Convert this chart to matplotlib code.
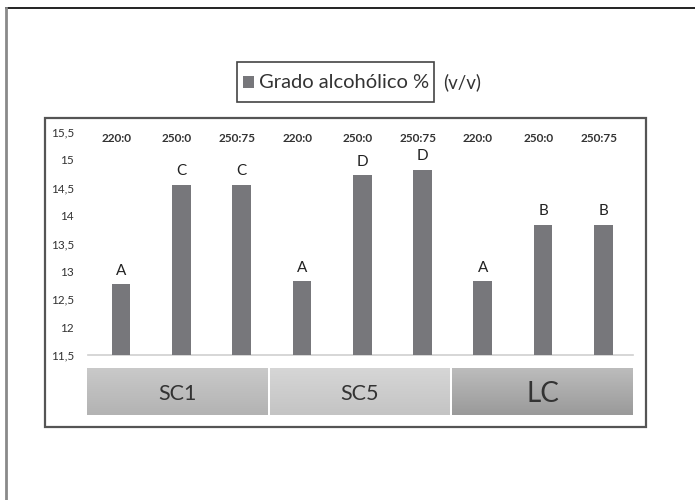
import matplotlib
matplotlib.use("Agg")
import matplotlib.pyplot as plt
from matplotlib.patches import Rectangle
from matplotlib.lines import Line2D
from matplotlib.transforms import blended_transform_factory
from matplotlib.colors import LinearSegmentedColormap
import numpy as np

plt.rcParams['font.family'] = ['Lato', 'DejaVu Sans']

# Data
groups = ["SC1", "SC5", "LC"]
treatments = ["220:0", "250:0", "250:75"]
values = {
    "SC1": [12.77, 14.55, 14.55],
    "SC5": [12.82, 14.72, 14.82],
    "LC":  [12.82, 13.83, 13.83],
}
letters = {
    "SC1": ["A", "C", "C"],
    "SC5": ["A", "D", "D"],
    "LC":  ["A", "B", "B"],
}
yticks = [11.5, 12, 12.5, 13, 13.5, 14, 14.5, 15, 15.5]
series_name = "Grado alcohólico %"
unit_text = "(v/v)"

W, H = 695, 500
fig = plt.figure(figsize=(W / 100, H / 100), dpi=100)
fig.patch.set_facecolor("white")


def fx(px):
    return px / W


def fy(py):
    return 1 - py / H


# Page edges: top and left rules
fig.add_artist(Line2D([fx(6), 1], [fy(8), fy(8)], transform=fig.transFigure,
                      color="#222222", linewidth=1.4))
fig.add_artist(Line2D([fx(6), fx(6)], [fy(8), 0], transform=fig.transFigure,
                      color="#8a8a8a", linewidth=2.0))

# Chart frame
fig.patches.append(Rectangle((fx(45), fy(427)), fx(646 - 45), fy(118) - fy(427),
                             transform=fig.transFigure, fill=False,
                             edgecolor="#555555", linewidth=1.6))

# Legend box with the unit text spilling past its right edge
fig.patches.append(Rectangle((fx(237), fy(102)), fx(434 - 237), fy(62) - fy(102),
                             transform=fig.transFigure, fill=False,
                             edgecolor="#444444", linewidth=1.2, zorder=5))
fig.patches.append(Rectangle((fx(243), fy(88)), fx(11), fy(76) - fy(88),
                             transform=fig.transFigure, facecolor="#77777b",
                             edgecolor="none", zorder=5))
fig.text(fx(259), fy(82), series_name, fontsize=14.5, color="#333333",
         va="center", ha="left")
fig.text(fx(443), fy(82), unit_text, fontsize=13.5, color="#333333",
         va="center", ha="left")

# Main bar axes
left_px, right_px = 88, 633
top_px, base_px = 132, 355
ax = fig.add_axes([fx(left_px), fy(base_px), fx(right_px - left_px), fy(top_px) - fy(base_px)])
ax.set_facecolor("none")

all_vals = [v for g in groups for v in values[g]]
all_letters = [l for g in groups for l in letters[g]]
all_treat = [t for g in groups for t in treatments]
x = np.arange(len(all_vals))

ax.bar(x, np.array(all_vals) - 11.5, bottom=11.5, width=0.31, color="#77777b", zorder=3)

first_center, spacing = 121, 60.3
ax.set_xlim(-(first_center - left_px) / spacing, (right_px - first_center) / spacing)
ax.set_ylim(11.5, 15.5)
ax.set_yticks(yticks)
ax.set_yticklabels([f"{t:g}".replace(".", ",") for t in yticks], fontsize=8.5, color="#333333")
ax.tick_params(axis="y", length=0, pad=10)
ax.set_xticks([])
for s in ["top", "right", "left"]:
    ax.spines[s].set_visible(False)
ax.spines["bottom"].set_color("#cfcfcf")
ax.spines["bottom"].set_linewidth(1.2)

for xi, v, lt in zip(x, all_vals, all_letters):
    ax.text(xi, v + 0.12, lt, ha="center", va="bottom", fontsize=11, color="#222222")

trans = blended_transform_factory(ax.transData, ax.transData)
for xi, t in zip(x, all_treat):
    ax.text(xi - 0.08, 15.38, t, ha="center", va="center", fontsize=8.5,
            fontweight="bold", color="#333333", transform=trans)

# Group boxes beneath the bars
bax = fig.add_axes([fx(87), fy(415), fx(633 - 87), fy(368) - fy(415)])
bax.set_xlim(0, 3)
bax.set_ylim(0, 1)
bax.axis("off")
grad = np.linspace(0, 1, 64).reshape(-1, 1)
box_styles = [
    ("#c9c9c9", "#b3b3b3", 15.5),
    ("#d6d6d6", "#c4c4c4", 15.5),
    ("#bcbcbc", "#9a9a9a", 20),
]
gap = 0.008
for i, (g, (c_top, c_bot, fs)) in enumerate(zip(groups, box_styles)):
    cmap = LinearSegmentedColormap.from_list(f"box{i}", [c_top, c_bot])
    x0, x1 = i + (gap if i > 0 else 0), i + 1 - (gap if i < 2 else 0)
    bax.imshow(grad, extent=[x0, x1, 0, 1], aspect="auto", cmap=cmap,
               origin="upper", zorder=1)
    bax.text((x0 + x1) / 2, 0.45, g, ha="center", va="center",
             fontsize=fs, color="#333333", zorder=2)

fig.savefig("out.png", dpi=100, facecolor="white")
